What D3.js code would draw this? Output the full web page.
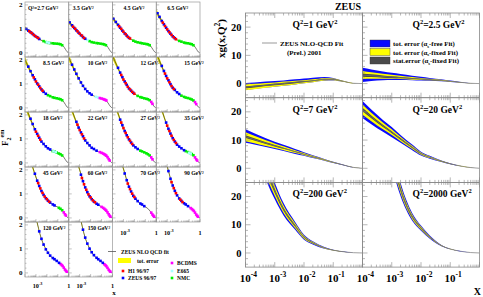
<!DOCTYPE html>
<html>
<head>
<meta charset="utf-8">
<script src="https://cdn.jsdelivr.net/npm/d3@7"></script>
<style>
  body { margin: 0; background: #fff; }
  text { font-family: "Liberation Serif", "DejaVu Serif", serif; font-weight: bold; }
</style>
</head>
<body>
<svg id="chart" width="483" height="297"></svg>
<script>
// ---------- left: F2 data ----------
const q2Bins = [2.7, 3.5, 4.5, 6.5, 8.5, 10, 12, 15, 18, 22, 27, 35, 45, 60, 70, 90, 120, 150];
const fitX = [1e-4, 3e-4, 1e-3, 3e-3, 0.01, 0.03, 0.1, 0.2, 0.3, 0.5, 0.7, 1];
const fitF2 = [
  [1.04, 0.87, 0.68, 0.53, 0.43, 0.40, 0.38, 0.35, 0.30, 0.15, 0.05, 0],
  [1.30, 1.05, 0.80, 0.60, 0.47, 0.41, 0.38, 0.35, 0.30, 0.15, 0.05, 0],
  [1.46, 1.18, 0.88, 0.64, 0.49, 0.42, 0.38, 0.35, 0.29, 0.14, 0.05, 0],
  [1.72, 1.35, 0.98, 0.70, 0.52, 0.44, 0.39, 0.35, 0.29, 0.14, 0.04, 0],
  [2.00, 1.55, 1.10, 0.78, 0.56, 0.45, 0.39, 0.35, 0.29, 0.14, 0.04, 0],
  [2.10, 1.62, 1.15, 0.80, 0.58, 0.46, 0.39, 0.34, 0.28, 0.13, 0.04, 0],
  [2.18, 1.68, 1.18, 0.82, 0.59, 0.46, 0.39, 0.34, 0.28, 0.13, 0.04, 0],
  [2.30, 1.76, 1.23, 0.85, 0.61, 0.47, 0.40, 0.34, 0.27, 0.13, 0.04, 0],
  [2.42, 1.85, 1.30, 0.90, 0.64, 0.49, 0.41, 0.35, 0.28, 0.13, 0.04, 0],
  [2.58, 1.96, 1.37, 0.95, 0.67, 0.51, 0.42, 0.35, 0.28, 0.13, 0.04, 0],
  [2.75, 2.10, 1.45, 1.00, 0.70, 0.53, 0.43, 0.35, 0.27, 0.12, 0.035, 0],
  [2.95, 2.25, 1.55, 1.05, 0.73, 0.55, 0.44, 0.35, 0.27, 0.12, 0.035, 0],
  [3.20, 2.45, 1.70, 1.15, 0.78, 0.57, 0.45, 0.36, 0.27, 0.12, 0.035, 0],
  [3.60, 2.80, 2.00, 1.30, 0.85, 0.60, 0.46, 0.36, 0.27, 0.12, 0.03, 0],
  [3.70, 2.85, 2.05, 1.33, 0.87, 0.61, 0.46, 0.36, 0.26, 0.11, 0.03, 0],
  [3.90, 3.00, 2.15, 1.38, 0.89, 0.62, 0.46, 0.35, 0.26, 0.11, 0.03, 0],
  [4.10, 3.20, 2.30, 1.45, 0.92, 0.63, 0.46, 0.35, 0.26, 0.11, 0.03, 0],
  [4.30, 3.35, 2.40, 1.50, 0.94, 0.64, 0.46, 0.35, 0.25, 0.10, 0.025, 0]
];
// relative error of the fit (yellow band)
const fitErr = [0.07, 0.05, 0.035, 0.025, 0.02, 0.015, 0.012, 0.012, 0.012, 0.012, 0.012, 0];

const zeusPts = [
  [[1.3e-4,1.00],[2e-4,0.93],[3.2e-4,0.86],[5e-4,0.79],[8e-4,0.71],[1.3e-3,0.65],[2e-3,0.58]],
  [[1.2e-4,1.27],[2e-4,1.15],[3.2e-4,1.04],[5e-4,0.94],[8e-4,0.84],[1.3e-3,0.74],[2e-3,0.66],[3.2e-3,0.59]],
  [[1.2e-4,1.42],[2e-4,1.29],[3.2e-4,1.17],[5e-4,1.05],[8e-4,0.93],[1.3e-3,0.81],[2e-3,0.72],[3.2e-3,0.63]],
  [[1.3e-4,1.65],[2e-4,1.50],[3.2e-4,1.33],[5e-4,1.19],[8e-4,1.05],[1.3e-3,0.91],[2e-3,0.80],[3.2e-3,0.69],[5e-3,0.61]],
  [[2e-4,1.72],[3.2e-4,1.53],[5e-4,1.36],[8e-4,1.19],[1.3e-3,1.02],[2e-3,0.90],[3.2e-3,0.77],[5e-3,0.67],[8e-3,0.59]],
  [[2e-4,1.80],[3.2e-4,1.60],[5e-4,1.42],[8e-4,1.23],[1.3e-3,1.06],[2e-3,0.92],[3.2e-3,0.79],[5e-3,0.69],[8e-3,0.61],[0.0125,0.55]],
  [[3.2e-4,1.67],[5e-4,1.47],[8e-4,1.28],[1.3e-3,1.10],[2e-3,0.96],[3.2e-3,0.81],[5e-3,0.72],[8e-3,0.63]],
  [[3.2e-4,1.75],[5e-4,1.54],[8e-4,1.33],[1.3e-3,1.15],[2e-3,0.99],[3.2e-3,0.84],[5e-3,0.75],[8e-3,0.65],[0.0125,0.58]],
  [[3.2e-4,1.84],[5e-4,1.62],[8e-4,1.40],[1.3e-3,1.21],[2e-3,1.05],[3.2e-3,0.89],[5e-3,0.79],[8e-3,0.69],[0.0125,0.61],[0.02,0.56]],
  [[5e-4,1.71],[8e-4,1.47],[1.3e-3,1.27],[2e-3,1.11],[3.2e-3,0.94],[5e-3,0.83],[8e-3,0.73],[0.0125,0.63],[0.02,0.58],[0.035,0.51]],
  [[5e-4,1.80],[8e-4,1.57],[1.3e-3,1.33],[2e-3,1.15],[3.2e-3,0.98],[5e-3,0.85],[8e-3,0.73],[0.0125,0.65],[0.02,0.58]],
  [[8e-4,1.68],[1.3e-3,1.42],[2e-3,1.22],[3.2e-3,1.03],[5e-3,0.89],[8e-3,0.76],[0.0125,0.68],[0.02,0.61],[0.035,0.53]],
  [[8e-4,1.84],[1.3e-3,1.55],[2e-3,1.33],[3.2e-3,1.12],[5e-3,0.96],[8e-3,0.82],[0.0125,0.72],[0.02,0.64],[0.035,0.56],[0.05,0.52]],
  [[1.3e-3,1.80],[2e-3,1.53],[3.2e-3,1.27],[5e-3,1.07],[8e-3,0.90],[0.0125,0.78],[0.02,0.68],[0.035,0.59],[0.05,0.55]],
  [[1.3e-3,1.85],[2e-3,1.57],[3.2e-3,1.30],[5e-3,1.10],[8e-3,0.92],[0.0125,0.80],[0.02,0.70],[0.035,0.60],[0.05,0.56],[0.08,0.49]],
  [[1.3e-3,1.95],[2e-3,1.63],[3.2e-3,1.35],[5e-3,1.13],[8e-3,0.94],[0.0125,0.81],[0.02,0.71],[0.035,0.61],[0.05,0.56],[0.08,0.49]],
  [[2e-3,1.73],[3.2e-3,1.42],[5e-3,1.18],[8e-3,0.98],[0.0125,0.84],[0.02,0.72],[0.035,0.62],[0.05,0.57],[0.08,0.50],[0.13,0.42]],
  [[2e-3,1.80],[3.2e-3,1.47],[5e-3,1.22],[8e-3,1.01],[0.0125,0.86],[0.02,0.74],[0.035,0.63],[0.05,0.57],[0.08,0.50],[0.13,0.42]]
];
const h1Pts = [
  [[2.5e-4,0.90],[4e-4,0.83],[6.3e-4,0.75],[1e-3,0.68],[1.6e-3,0.62]],
  [[2.5e-4,1.09],[4e-4,1.00],[6.3e-4,0.90],[1e-3,0.80],[1.6e-3,0.72],[2.5e-3,0.62]],
  [[4e-4,1.11],[6.3e-4,1.00],[1e-3,0.88],[1.6e-3,0.78],[2.5e-3,0.67],[4e-3,0.60]],
  [[4e-4,1.26],[6.3e-4,1.12],[1e-3,0.98],[1.6e-3,0.86],[2.5e-3,0.75],[4e-3,0.65],[6.3e-3,0.57]],
  [[6.3e-4,1.27],[1e-3,1.10],[1.6e-3,0.97],[2.5e-3,0.83],[4e-3,0.72]],
  [],
  [[6.3e-4,1.37],[1e-3,1.18],[1.6e-3,1.03],[2.5e-3,0.88],[4e-3,0.77],[6.3e-3,0.67],[0.01,0.59]],
  [[6.3e-4,1.43],[1e-3,1.23],[1.6e-3,1.07],[2.5e-3,0.91],[4e-3,0.79]],
  [[1e-3,1.30],[1.6e-3,1.13],[2.5e-3,0.97]],
  [[6.3e-4,1.59],[1e-3,1.37],[1.6e-3,1.19],[2.5e-3,1.02]],
  [[6.3e-4,1.68],[1e-3,1.45],[1.6e-3,1.25],[2.5e-3,1.07],[4e-3,0.92],[6.3e-3,0.79]],
  [[1e-3,1.55],[1.6e-3,1.33],[2.5e-3,1.13],[4e-3,0.96],[6.3e-3,0.83]],
  [[1.6e-3,1.45],[2.5e-3,1.23],[4e-3,1.04],[6.3e-3,0.89],[0.01,0.78],[0.016,0.68]],
  [[1.6e-3,1.66],[2.5e-3,1.40],[4e-3,1.17],[6.3e-3,0.98],[0.01,0.85],[0.016,0.73],[0.025,0.65]],
  [[2.5e-3,1.43],[4e-3,1.20],[6.3e-3,1.01],[0.01,0.87]],
  [[2.5e-3,1.49],[4e-3,1.24],[6.3e-3,1.03],[0.016,0.76],[0.025,0.66]],
  [],
  []
];
const nmcPts = [
  [[0.005,0.49],[0.008,0.45],[0.0125,0.42],[0.02,0.41],[0.035,0.40],[0.05,0.39],[0.08,0.385],[0.125,0.375],[0.175,0.36],[0.25,0.32]],
  [[0.008,0.49],[0.0125,0.45],[0.02,0.43],[0.035,0.41],[0.05,0.40],[0.08,0.385],[0.125,0.37],[0.175,0.355],[0.25,0.32]],
  [[0.008,0.51],[0.0125,0.47],[0.02,0.44],[0.035,0.42],[0.05,0.40],[0.08,0.385],[0.125,0.37],[0.175,0.355],[0.25,0.32]],
  [[0.0125,0.50],[0.02,0.47],[0.035,0.43],[0.05,0.41],[0.08,0.40],[0.125,0.38],[0.175,0.36],[0.25,0.32]],
  [[0.0125,0.53],[0.02,0.49],[0.035,0.44],[0.05,0.42],[0.08,0.40],[0.125,0.38],[0.175,0.36],[0.25,0.32]],
  [],
  [[0.02,0.50],[0.035,0.45],[0.05,0.43],[0.08,0.40],[0.125,0.38],[0.175,0.36],[0.25,0.32]],
  [[0.02,0.51],[0.035,0.46],[0.05,0.43],[0.08,0.41],[0.125,0.38],[0.175,0.35],[0.25,0.31]],
  [[0.035,0.49],[0.05,0.475],[0.08,0.43],[0.125,0.39],[0.175,0.36],[0.25,0.31]],
  [],
  [[0.035,0.51],[0.05,0.48],[0.08,0.44],[0.125,0.40],[0.175,0.36],[0.25,0.31]],
  [[0.05,0.49],[0.08,0.45],[0.125,0.41],[0.175,0.37],[0.25,0.32]],
  [[0.125,0.42],[0.175,0.38],[0.25,0.32]],
  [], [], [], [], []
];
const bcdmsPts = [
  [], [], [], [], [],
  [[0.07,0.41],[0.1,0.39],[0.14,0.37],[0.18,0.35],[0.225,0.33],[0.275,0.31]],
  [[0.35,0.25],[0.45,0.17]],
  [[0.35,0.24],[0.45,0.16]],
  [],
  [[0.07,0.45],[0.1,0.42],[0.14,0.39],[0.18,0.36],[0.225,0.33],[0.275,0.30],[0.35,0.24],[0.45,0.16],[0.55,0.10]],
  [[0.35,0.23],[0.45,0.15]],
  [[0.35,0.23],[0.45,0.15],[0.55,0.10]],
  [[0.35,0.23],[0.45,0.15],[0.55,0.10]],
  [[0.1,0.46],[0.14,0.42],[0.18,0.38],[0.225,0.34],[0.275,0.30],[0.35,0.23],[0.45,0.15],[0.55,0.09],[0.65,0.05]],
  [[0.35,0.22],[0.45,0.14],[0.55,0.09],[0.65,0.05]],
  [[0.14,0.41],[0.18,0.37],[0.225,0.33],[0.275,0.29],[0.35,0.22],[0.45,0.14],[0.55,0.09],[0.65,0.05]],
  [[0.18,0.37],[0.225,0.33],[0.275,0.29],[0.35,0.22],[0.45,0.14],[0.55,0.09],[0.65,0.05]],
  [[0.18,0.36],[0.225,0.32],[0.275,0.28],[0.35,0.21],[0.45,0.13],[0.55,0.08],[0.65,0.05]]
];
const e665Pts = [
  [[0.01,0.44],[0.016,0.42]],
  [[0.005,0.54]],
  [], [], [],
  [[0.03,0.46],[0.05,0.43]],
  [], [],
  [[0.04,0.48],[0.065,0.45]],
  [], [],
  [[0.1,0.42],[0.14,0.39]],
  [], [], [], [], [], []
];

// ---------- right: gluon data ----------
const gluonQ2 = ["1", "2.5", "7", "20", "200", "2000"];
const gluonX = [1e-4, 2e-4, 5e-4, 1e-3, 2e-3, 5e-3, 0.01, 0.02, 0.05, 0.1, 0.2, 0.5, 1];
const gCentral = [
  [-1.3, -1.0, -0.6, -0.3, 0.0, 0.4, 0.7, 1.0, 1.5, 1.5, 0.9, 0.1, 0],
  [3.0, 2.8, 2.5, 2.3, 2.1, 1.8, 1.6, 1.4, 1.1, 0.8, 0.5, 0.1, 0],
  [11.2, 10.2, 8.9, 8.0, 7.1, 5.9, 5.0, 4.1, 3.0, 2.1, 1.3, 0.3, 0],
  [20.8, 18.2, 15.0, 12.8, 10.4, 7.4, 5.2, 3.9, 2.5, 1.6, 0.9, 0.25, 0],
  [60, 45, 30, 22, 15.5, 9.6, 5.6, 3.6, 1.8, 1.0, 0.5, 0.1, 0],
  [100, 70, 48, 34, 22.5, 12.8, 8.8, 5.6, 2.6, 1.4, 0.7, 0.15, 0]
];
const gBlueLo = [
  [-2.2, -1.9, -1.4, -1.1, -0.8, -0.3, 0.1, 0.5, 1.0, 1.1, 0.7, 0.05, 0],
  [0.6, 0.9, 1.2, 1.3, 1.3, 1.2, 1.1, 1.0, 0.8, 0.6, 0.35, 0.05, 0],
  [9.0, 8.4, 7.5, 6.8, 6.1, 5.1, 4.4, 3.6, 2.7, 1.9, 1.2, 0.25, 0],
  [17.8, 15.6, 12.9, 11.0, 9.0, 6.4, 4.5, 3.4, 2.2, 1.4, 0.8, 0.22, 0],
  [52, 39, 26, 19, 13.3, 8.2, 4.7, 3.0, 1.5, 0.85, 0.42, 0.08, 0],
  [88, 62, 43, 30.5, 20.1, 11.4, 7.9, 5.05, 2.35, 1.28, 0.64, 0.135, 0]
];
const gBlueHi = [
  [0.2, 0.4, 0.7, 0.9, 1.1, 1.5, 1.8, 2.1, 2.3, 2.0, 1.1, 0.15, 0],
  [5.6, 5.0, 4.3, 3.8, 3.4, 2.8, 2.4, 2.0, 1.5, 1.05, 0.65, 0.15, 0],
  [13.8, 12.4, 10.6, 9.4, 8.3, 6.8, 5.7, 4.6, 3.3, 2.3, 1.4, 0.35, 0],
  [23.8, 20.8, 17.1, 14.6, 11.8, 8.4, 5.9, 4.4, 2.8, 1.8, 1.0, 0.28, 0],
  [68, 51, 34, 25, 17.7, 11.0, 6.5, 4.2, 2.1, 1.15, 0.58, 0.12, 0],
  [112, 78, 53, 37.5, 24.9, 14.2, 9.7, 6.15, 2.85, 1.52, 0.76, 0.165, 0]
];
const gYelLo = [
  [-2.4, -2.0, -1.5, -1.1, -0.8, -0.3, 0.1, 0.5, 1.1, 1.2, 0.75, 0.05, 0],
  [1.6, 1.7, 1.7, 1.7, 1.6, 1.4, 1.3, 1.15, 0.9, 0.65, 0.4, 0.06, 0],
  [9.6, 8.9, 7.9, 7.2, 6.4, 5.4, 4.6, 3.8, 2.8, 2.0, 1.25, 0.27, 0],
  [19.0, 16.7, 13.8, 11.8, 9.6, 6.85, 4.8, 3.6, 2.32, 1.48, 0.83, 0.23, 0],
  [55.2, 41.4, 27.6, 20.2, 14.2, 8.76, 5.06, 3.24, 1.62, 0.91, 0.45, 0.088, 0],
  [92.8, 65.2, 45, 31.9, 21.06, 11.96, 8.26, 5.27, 2.45, 1.33, 0.664, 0.141, 0]
];
const gYelHi = [
  [-0.3, -0.1, 0.2, 0.4, 0.7, 1.0, 1.2, 1.5, 1.9, 1.8, 1.05, 0.15, 0],
  [4.5, 4.0, 3.5, 3.1, 2.8, 2.3, 2.0, 1.7, 1.35, 0.95, 0.6, 0.14, 0],
  [12.8, 11.5, 9.9, 8.8, 7.8, 6.4, 5.4, 4.4, 3.2, 2.2, 1.35, 0.33, 0],
  [22.6, 19.7, 16.2, 13.8, 11.2, 7.95, 5.6, 4.2, 2.68, 1.72, 0.97, 0.27, 0],
  [64.8, 48.6, 32.4, 23.8, 16.8, 10.44, 6.14, 3.96, 1.98, 1.09, 0.55, 0.112, 0],
  [107.2, 74.8, 51, 36.1, 23.94, 13.64, 9.34, 5.93, 2.75, 1.47, 0.736, 0.159, 0]
];
const gStatLo = [
  [-1.65, -1.35, -0.9, -0.6, -0.3, 0.15, 0.5, 0.82, 1.35, 1.4, 0.85, 0.08, 0],
  [2.4, 2.3, 2.1, 2.0, 1.85, 1.6, 1.45, 1.3, 1.0, 0.75, 0.45, 0.08, 0],
  [10.7, 9.8, 8.6, 7.75, 6.9, 5.75, 4.9, 4.0, 2.95, 2.07, 1.28, 0.29, 0],
  [20.2, 17.7, 14.6, 12.45, 10.1, 7.2, 5.05, 3.8, 2.43, 1.55, 0.87, 0.24, 0],
  [58, 43.5, 29, 21.25, 14.95, 9.25, 5.38, 3.45, 1.73, 0.96, 0.48, 0.095, 0],
  [97, 68, 46.75, 33.12, 21.9, 12.45, 8.58, 5.46, 2.54, 1.37, 0.685, 0.146, 0]
];
const gStatHi = [
  [-0.95, -0.65, -0.3, 0.0, 0.3, 0.65, 0.9, 1.18, 1.65, 1.6, 0.95, 0.12, 0],
  [3.6, 3.3, 2.9, 2.6, 2.35, 2.0, 1.75, 1.5, 1.2, 0.85, 0.55, 0.12, 0],
  [11.7, 10.6, 9.2, 8.25, 7.3, 6.05, 5.1, 4.2, 3.05, 2.13, 1.32, 0.31, 0],
  [21.4, 18.7, 15.4, 13.15, 10.7, 7.6, 5.35, 4.0, 2.57, 1.65, 0.93, 0.26, 0],
  [62, 46.5, 31, 22.75, 16.05, 9.95, 5.82, 3.75, 1.88, 1.04, 0.52, 0.105, 0],
  [103, 72, 49.25, 34.88, 23.1, 13.15, 9.02, 5.74, 2.66, 1.43, 0.715, 0.154, 0]
];
const gluonYTicks = [0, 10, 20];

// ---------- drawing helpers ----------
const svg = d3.select("#chart");
const defs = svg.append("defs");

// text with superscripts / subscripts: parts = [[text, "n"|"sup"|"sub"], ...]
function rich(parent, x, y, size, parts) {
  const t = parent.append("text").attr("x", x).attr("y", y).attr("font-size", size);
  let shift = 0;
  parts.forEach(([s, kind]) => {
    const target = kind === "sup" ? -size * 0.42 : kind === "sub" ? size * 0.28 : 0;
    t.append("tspan")
      .attr("dy", target - shift)
      .attr("font-size", kind === "n" ? size : size * 0.68)
      .text(s);
    shift = target;
  });
  return t;
}

function logTicks(lo, hi) {
  let major = [], minor = [];
  for (let d = lo; d <= hi; d++) {
    major.push(Math.pow(10, d));
    if (d < hi) for (let k = 2; k <= 9; k++) minor.push(k * Math.pow(10, d));
  }
  return {major, minor};
}

// ---------- left block ----------
const L = {x0: 25, y0: 2, w: 43.75, h: 55};
const fx = d3.scaleLog().domain([1e-4, 1]).range([0, L.w]);
const fy = d3.scaleLinear().domain([-0.17, 2.12]).range([L.h, 0]);
const lTicks = logTicks(-4, 0);
const labelOffsetRow0 = [3, 4, 11, 11];
const labelOffset = [18, 19, 28, 28];

const experiments = [
  {pts: nmcPts, color: "#00ee00"},
  {pts: e665Pts, color: "#aaffff"},
  {pts: bcdmsPts, color: "#ff00ff"},
  {pts: zeusPts, color: "#0000ff"},
  {pts: h1Pts, color: "#ff0000"}
];

q2Bins.forEach((q, i) => {
  const row = Math.floor(i / 4), col = i % 4;
  const g = svg.append("g").attr("transform", `translate(${L.x0 + col * L.w},${L.y0 + row * L.h})`);
  defs.append("clipPath").attr("id", "lc" + i)
    .append("rect").attr("width", L.w).attr("height", L.h);
  const inner = g.append("g").attr("clip-path", `url(#lc${i})`);

  const fit = fitX.map((x, k) => ({x: x, y: fitF2[i][k], e: fitF2[i][k] * fitErr[k]}));
  inner.append("path").datum(fit)
    .attr("d", d3.area().x(d => fx(d.x)).y0(d => fy(d.y - d.e)).y1(d => fy(d.y + d.e)).curve(d3.curveMonotoneX))
    .attr("fill", "#e8e000");
  inner.append("path").datum(fit)
    .attr("d", d3.line().x(d => fx(d.x)).y(d => fy(d.y)).curve(d3.curveMonotoneX))
    .attr("fill", "none").attr("stroke", "#222").attr("stroke-width", 0.6);

  experiments.forEach(ex => {
    inner.selectAll(null).data(ex.pts[i]).enter().append("rect")
      .attr("x", d => fx(d[0]) - 1.3).attr("y", d => fy(d[1]) - 1.3)
      .attr("width", 2.6).attr("height", 2.6)
      .attr("fill", ex.color);
  });

  // frame
  g.append("rect").attr("width", L.w).attr("height", L.h)
    .attr("fill", "none").attr("stroke", "#999").attr("stroke-width", 0.7);

  // y ticks
  d3.range(0, 2.01, 0.2).forEach(v => {
    const major = Math.abs(v - Math.round(v)) < 1e-6;
    g.append("line").attr("x1", 0).attr("x2", major ? 3 : 1.5)
      .attr("y1", fy(v)).attr("y2", fy(v)).attr("stroke", "#888").attr("stroke-width", 0.5);
  });
  // x ticks
  lTicks.major.forEach(v => g.append("line").attr("x1", fx(v)).attr("x2", fx(v))
    .attr("y1", L.h).attr("y2", L.h - 3).attr("stroke", "#888").attr("stroke-width", 0.5));
  lTicks.minor.forEach(v => g.append("line").attr("x1", fx(v)).attr("x2", fx(v))
    .attr("y1", L.h).attr("y2", L.h - 1.5).attr("stroke", "#888").attr("stroke-width", 0.5));

  if (col === 0) {
    [0, 1, 2].forEach(v => g.append("text").attr("x", -2.5).attr("y", fy(v) + 2.3)
      .attr("text-anchor", "end").attr("font-size", 7).attr("font-weight", "normal").text(v));
  }

  // bin label
  const lx = row === 0 ? labelOffsetRow0[col] : labelOffset[col];
  const txt = (i === 0 ? "Q²=" : "") + q + " GeV²";
  g.append("text").attr("x", lx).attr("y", 8).attr("font-size", 5.6).text(txt);

  // x labels under the lowest panel of each column
  const lowest = (row === 4) || (row === 3 && col >= 2);
  if (lowest) {
    const ly = L.h + (row === 4 ? 10.5 : 13);
    rich(g, fx(1e-3) - 3.2, ly, 6.2, [["10", "n"], ["-3", "sup"]]).attr("font-weight", "normal");
    g.append("text").attr("x", L.w).attr("y", ly).attr("text-anchor", "middle")
      .attr("font-size", 6.2).attr("font-weight", "normal").text("1");
  }
});

// left titles
rich(svg.append("g").attr("transform", "translate(8,146) rotate(-90)"), 0, 0, 9,
  [["F", "n"], ["2", "sub"], ["em", "sup"]]);
svg.append("text").attr("x", 114).attr("y", 294.5).attr("text-anchor", "middle")
  .attr("font-size", 7).text("x");

// left legend
const lg = svg.append("g");
lg.append("line").attr("x1", 108).attr("x2", 116).attr("y1", 251.5).attr("y2", 251.5)
  .attr("stroke", "#555").attr("stroke-width", 0.8);
lg.append("text").attr("x", 121).attr("y", 253.5).attr("font-size", 5.5).text("ZEUS NLO QCD fit");
lg.append("rect").attr("x", 118).attr("y", 258).attr("width", 13).attr("height", 5).attr("fill", "#ffff00");
lg.append("text").attr("x", 137).attr("y", 262.5).attr("font-size", 5.5).text("tot. error");
const legItems = [
  {name: "H1 96/97", color: "#ff0000", x: 123, y: 271},
  {name: "ZEUS 96/97", color: "#0000ff", x: 123, y: 278},
  {name: "BCDMS", color: "#ff00ff", x: 172, y: 263},
  {name: "E665", color: "#aaffff", x: 172, y: 271},
  {name: "NMC", color: "#00ee00", x: 172, y: 278}
];
legItems.forEach(d => {
  lg.append("rect").attr("x", d.x - 1.3).attr("y", d.y - 1.3).attr("width", 2.6).attr("height", 2.6).attr("fill", d.color);
  lg.append("text").attr("x", d.x + 5).attr("y", d.y + 2).attr("font-size", 5.5).text(d.name);
});

// ---------- right block ----------
const R = {x0: 245.5, y0: 13, w: 117, h: 84.7};
const gx = d3.scaleLog().domain([1e-4, 1]).range([0, R.w]);
const gy = d3.scaleLinear().domain([-5, 25]).range([R.h, 0]);
const rTicks = logTicks(-4, 0);
const qLabelOffset = [47, 50];

gluonQ2.forEach((q, j) => {
  const row = Math.floor(j / 2), col = j % 2;
  const g = svg.append("g").attr("transform", `translate(${R.x0 + col * R.w},${R.y0 + row * R.h})`);
  defs.append("clipPath").attr("id", "rc" + j)
    .append("rect").attr("width", R.w).attr("height", R.h);
  const inner = g.append("g").attr("clip-path", `url(#rc${j})`);

  const band = (lo, hi, color) => {
    const d = gluonX.map((x, k) => ({x: x, lo: lo[j][k], hi: hi[j][k]}));
    inner.append("path").datum(d)
      .attr("d", d3.area().x(p => gx(p.x)).y0(p => gy(p.lo)).y1(p => gy(p.hi)).curve(d3.curveMonotoneX))
      .attr("fill", color);
  };
  band(gBlueLo, gBlueHi, "#0a0aff");
  band(gYelLo, gYelHi, "#ffff00");
  band(gStatLo, gStatHi, "#4a4a4a");
  inner.append("path").datum(gluonX.map((x, k) => ({x: x, y: gCentral[j][k]})))
    .attr("d", d3.line().x(p => gx(p.x)).y(p => gy(p.y)).curve(d3.curveMonotoneX))
    .attr("fill", "none").attr("stroke", "#777").attr("stroke-width", 0.7);

  g.append("rect").attr("width", R.w).attr("height", R.h)
    .attr("fill", "none").attr("stroke", "#888").attr("stroke-width", 0.8);

  // y ticks
  d3.range(-4, 25, 2).forEach(v => {
    const major = v % 10 === 0;
    g.append("line").attr("x1", 0).attr("x2", major ? 5 : 2.5)
      .attr("y1", gy(v)).attr("y2", gy(v)).attr("stroke", "#888").attr("stroke-width", 0.6);
  });
  // x ticks top and bottom
  [[R.h, -1], [0, 1]].forEach(([y0, dir]) => {
    rTicks.major.forEach(v => g.append("line").attr("x1", gx(v)).attr("x2", gx(v))
      .attr("y1", y0).attr("y2", y0 + dir * 5).attr("stroke", "#888").attr("stroke-width", 0.6));
    rTicks.minor.forEach(v => g.append("line").attr("x1", gx(v)).attr("x2", gx(v))
      .attr("y1", y0).attr("y2", y0 + dir * 2.5).attr("stroke", "#888").attr("stroke-width", 0.6));
  });

  if (col === 0) {
    gluonYTicks.forEach(v => g.append("text").attr("x", -4).attr("y", gy(v) + 3.6)
      .attr("text-anchor", "end").attr("font-size", 10.5).text(v));
  }
  if (row === 2) {
    [1e-4, 1e-3, 1e-2, 1e-1].forEach(v => {
      rich(g, gx(v) - 5.8, R.h + 15, 11, [["10", "n"], [String(Math.round(Math.log10(v))), "sup"]]);
    });
  }

  rich(g, qLabelOffset[col], 15, 9.5, [["Q", "n"], ["2", "sup"], ["=" + q + " GeV", "n"], ["2", "sup"]]);
});

// right titles
svg.append("text").attr("x", 348).attr("y", 10).attr("text-anchor", "middle")
  .attr("font-size", 10).text("ZEUS");
rich(svg.append("g").attr("transform", "translate(225,58) rotate(-90)"), 0, 0, 11,
  [["xg(x,Q", "n"], ["2", "sup"], [")", "n"]]);
svg.append("text").attr("x", 481).attr("y", 295).attr("text-anchor", "end")
  .attr("font-size", 10).text("X");

// right legends
const rl = svg.append("g");
rl.append("line").attr("x1", 262).attr("x2", 277).attr("y1", 43).attr("y2", 43)
  .attr("stroke", "#999").attr("stroke-width", 1);
rl.append("text").attr("x", 280).attr("y", 45.5).attr("font-size", 7).text("ZEUS NLO-QCD Fit");
rl.append("text").attr("x", 287).attr("y", 54.5).attr("font-size", 7).text("(Prel.) 2001");

const bandLegend = [
  {color: "#0a0aff", a: "tot. error (α", b: "-free  Fit)"},
  {color: "#ffff00", a: "tot. error (α", b: "-fixed Fit)"},
  {color: "#4a4a4a", a: "stat.error (α", b: "-fixed Fit)"}
];
bandLegend.forEach((d, k) => {
  const y = 40 + k * 8.5;
  rl.append("rect").attr("x", 370).attr("y", y).attr("width", 20).attr("height", 7)
    .attr("fill", d.color).attr("stroke", "#333").attr("stroke-width", 0.4);
  rich(rl, 393, y + 6, 6.8, [[d.a, "n"], ["s", "sub"], [d.b, "n"]]);
});
</script>
</body>
</html>
